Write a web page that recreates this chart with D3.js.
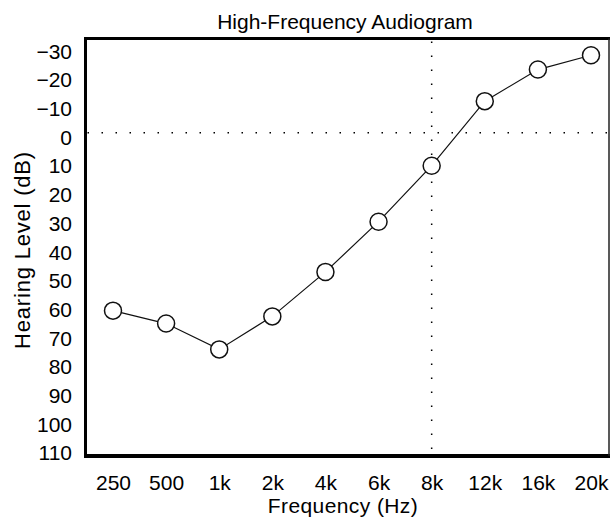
<!DOCTYPE html>
<html>
<head>
<meta charset="utf-8">
<script src="https://cdn.jsdelivr.net/npm/d3@7"></script>
<style>
  html, body { margin: 0; padding: 0; background: #fff; }
  svg { display: block; }
  text { font-family: "Liberation Sans", Arial, sans-serif; fill: #000; }
</style>
</head>
<body>
<svg id="chart" width="611" height="520"></svg>
<script>
// ---- data ----
const frequencies = ["250", "500", "1k", "2k", "4k", "6k", "8k", "12k", "16k", "20k"];
const hearingLevels = [62, 66.5, 75.5, 64, 48.5, 31, 11.5, -11, -22, -27];
const yTickValues = [-30, -20, -10, 0, 10, 20, 30, 40, 50, 60, 70, 80, 90, 100, 110];
const refFrequency = "8k";
const refLevel = 0;
const chartTitle = "High-Frequency Audiogram";
const xTitle = "Frequency (Hz)";
const yTitle = "Hearing Level (dB)";

// ---- layout ----
const frame = { left: 85.5, top: 38.5, right: 609, bottom: 456 };
const svg = d3.select("#chart");
const FONT = "Liberation Sans, Arial, sans-serif";

const x = d3.scalePoint().domain(frequencies).range([113, 591]);
const y = d3.scaleLinear().domain([-30, 110]).range([46.6, 448.4]);

// reference dotted lines
svg.append("line")
  .attr("x1", frame.left + 2).attr("x2", frame.right - 1)
  .attr("y1", y(refLevel)).attr("y2", y(refLevel))
  .attr("stroke", "#000").attr("stroke-width", 1.5)
  .attr("stroke-dasharray", "1.5 12.5");
svg.append("line")
  .attr("x1", x(refFrequency)).attr("x2", x(refFrequency))
  .attr("y1", frame.top + 3).attr("y2", frame.bottom - 2)
  .attr("stroke", "#000").attr("stroke-width", 1.5)
  .attr("stroke-dasharray", "1.5 12.5");

// frame
svg.append("line").attr("x1", frame.left).attr("x2", frame.right + 1)
  .attr("y1", frame.top).attr("y2", frame.top).attr("stroke", "#000").attr("stroke-width", 3);
svg.append("line").attr("x1", frame.left).attr("x2", frame.left)
  .attr("y1", frame.top - 1.5).attr("y2", frame.bottom + 2).attr("stroke", "#000").attr("stroke-width", 3);
svg.append("line").attr("x1", frame.left - 1.5).attr("x2", frame.right + 1)
  .attr("y1", frame.bottom).attr("y2", frame.bottom).attr("stroke", "#000").attr("stroke-width", 4);
svg.append("line").attr("x1", frame.right).attr("x2", frame.right)
  .attr("y1", frame.top).attr("y2", frame.bottom).attr("stroke", "#222").attr("stroke-width", 1.5);

// data line
const pts = frequencies.map((f, i) => ({ f, v: hearingLevels[i] }));
svg.append("path")
  .datum(pts)
  .attr("fill", "none")
  .attr("stroke", "#111")
  .attr("stroke-width", 1.2)
  .attr("d", d3.line().x(d => x(d.f)).y(d => y(d.v)));

// markers
svg.selectAll("circle.pt").data(pts).join("circle")
  .attr("class", "pt")
  .attr("cx", d => x(d.f)).attr("cy", d => y(d.v))
  .attr("r", 8.5)
  .attr("fill", "#fff").attr("stroke", "#111").attr("stroke-width", 1.5);

// y axis labels
const yAxis = d3.axisLeft(y).tickValues(yTickValues).tickSize(0).tickPadding(0);
const gy = svg.append("g").attr("transform", "translate(72,0)").call(yAxis);
gy.select(".domain").remove();
gy.selectAll("text")
  .attr("font-size", 21).attr("font-family", FONT).attr("fill", "#000")
  .attr("dy", null).attr("y", 11.5);

// x axis labels
const xAxis = d3.axisBottom(x).tickSize(0).tickPadding(0);
const gx = svg.append("g").attr("transform", "translate(0,490)").call(xAxis);
gx.select(".domain").remove();
gx.selectAll("text")
  .attr("font-size", 21).attr("font-family", FONT).attr("fill", "#000")
  .attr("dy", null).attr("y", 0);

// titles
svg.append("text").attr("x", 345).attr("y", 29).attr("text-anchor", "middle")
  .attr("font-size", 21).text(chartTitle);
svg.append("text").attr("x", 343).attr("y", 513).attr("text-anchor", "middle")
  .attr("font-size", 21).attr("letter-spacing", 0.4).text(xTitle);
svg.append("text")
  .attr("transform", "translate(30,250) rotate(-90)")
  .attr("text-anchor", "middle").attr("font-size", 22).attr("letter-spacing", 0.8)
  .text(yTitle);
</script>
</body>
</html>
